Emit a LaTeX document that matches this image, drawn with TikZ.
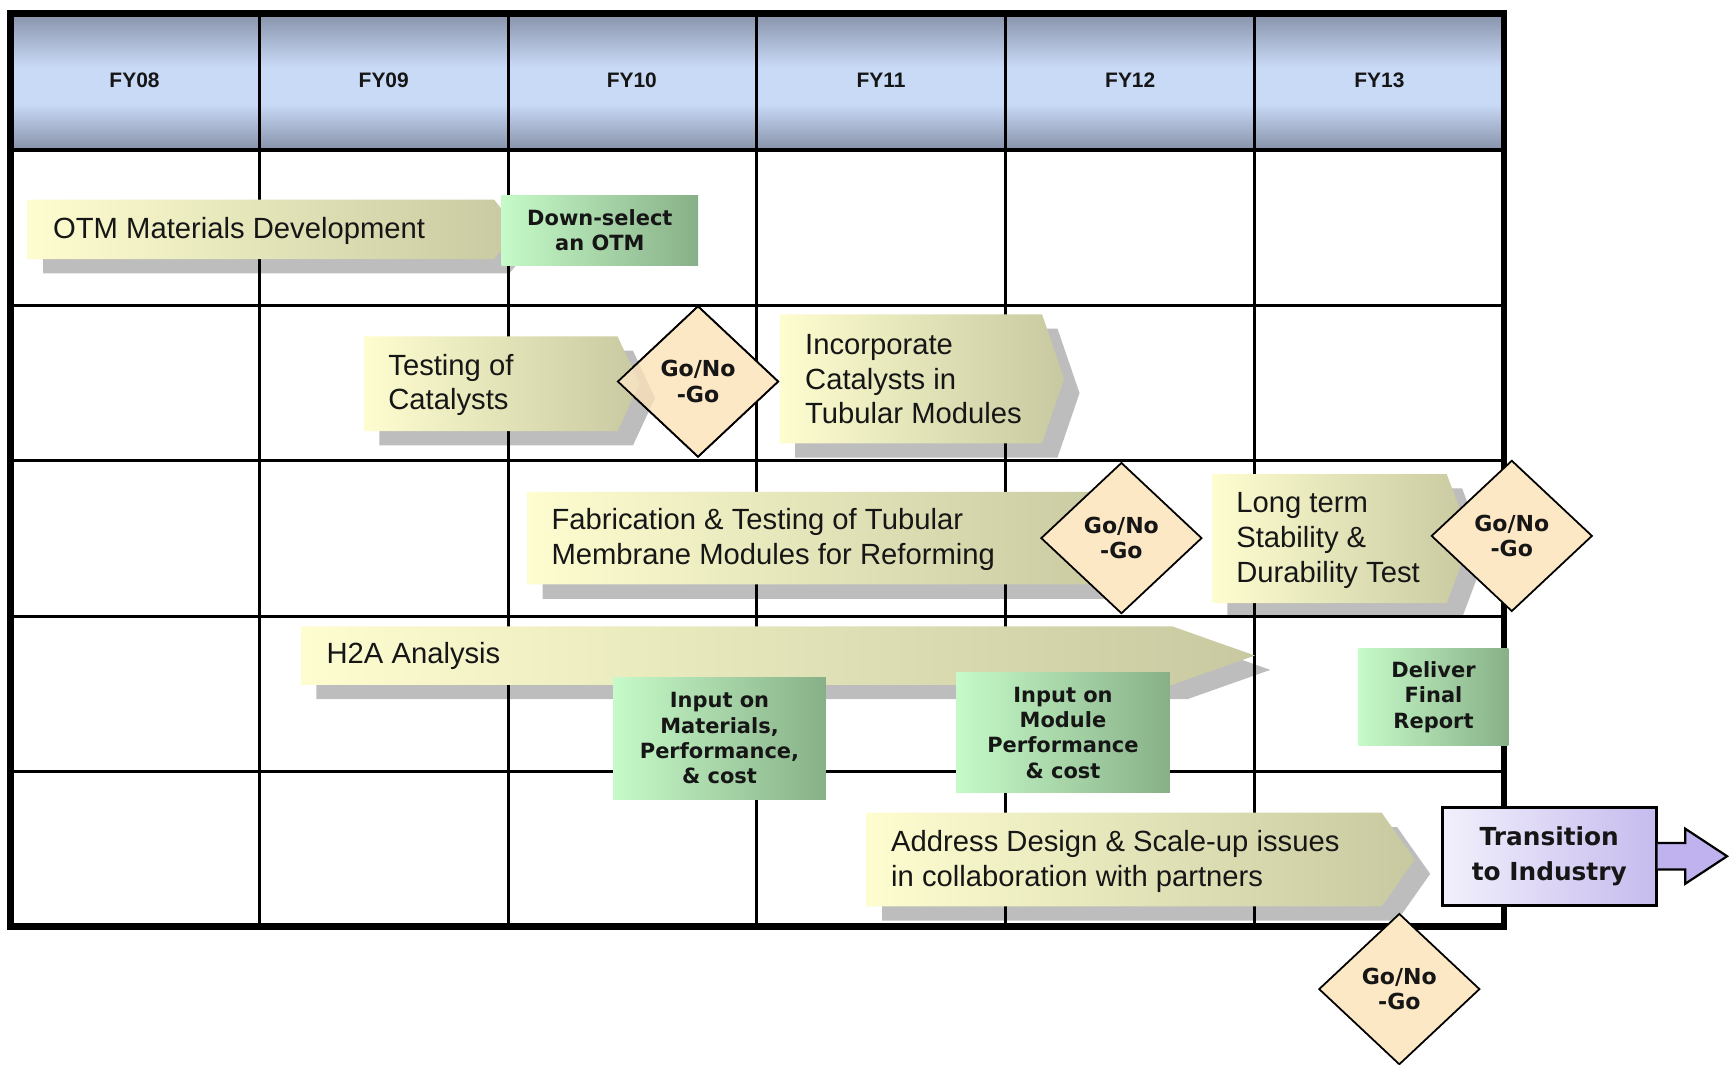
\documentclass[tikz,border=0pt]{standalone}
\usepackage{fontspec}
\setmainfont{Liberation Sans}
\newfontfamily\vfont{DejaVu Sans}
\usetikzlibrary{shapes.geometric,calc}

\definecolor{hdark}{HTML}{8792A9}
\definecolor{hlight}{HTML}{C9DAF7}
\definecolor{cl}{HTML}{FDFDD0}
\definecolor{cr}{HTML}{C9C9A1}
\definecolor{gl}{HTML}{C6FAC8}
\definecolor{gr}{HTML}{88B088}
\definecolor{dia}{HTML}{FDE8C6}
\definecolor{tl}{HTML}{F2F0FC}
\definecolor{tr}{HTML}{C6BBEE}
\definecolor{ta}{HTML}{BFB2EE}
\definecolor{ink}{HTML}{161616}

\newcommand\mychev[5]{%
  \fill[shd] (#1+14,#2+13) -- (#3+14,#2+13) -- (#4+14,{(#2+#5)/2+13}) -- (#3+14,#5+13) -- (#1+14,#5+13) -- cycle;
  \shade[left color=cl,right color=cr] (#1,#2) -- (#3,#2) -- (#4,{(#2+#5)/2}) -- (#3,#5) -- (#1,#5) -- cycle;
}

\begin{document}
\begin{tikzpicture}[x=1pt,y=-1pt,
  ctext/.style={font=\fontsize{26.5}{31.5}\selectfont, align=left, inner sep=0pt, text=ink, anchor=west},
  gbox/.style={left color=gl, right color=gr, inner sep=0pt, font=\vfont\bfseries\fontsize{19}{23}\selectfont, align=center, text=ink},
  dnode/.style={diamond, draw=black, line width=1.6pt, fill=dia, minimum width=146pt, minimum height=137pt, inner sep=0pt, font=\vfont\bfseries\fontsize{20}{23}\selectfont, align=center, text=ink},
  fy/.style={font=\bfseries\fontsize{19}{20}\selectfont, text=ink},
  shd/.style={fill=black, fill opacity=0.26},
  gridl/.style={line width=2.8pt, black},
]
\useasboundingbox (0,0) rectangle (1568,965);
\fill[white] (0,0) rectangle (1568,965);

% header
\shade[top color=hdark,bottom color=hlight] (9,12) rectangle (1364,61);
\fill[hlight] (9,61) rectangle (1364,94);
\shade[top color=hlight,bottom color=hdark] (9,94) rectangle (1364,136);

% grid
\foreach \x in {235,461,686,912,1138} \draw[gridl] (\x,12) -- (\x,840);
\foreach \y in {136,277,418,559,700} \draw[gridl] (9,\y) -- (1364,\y);
\draw[line width=6pt] (9.5,12) rectangle (1364,840);

% year labels
\node[fy] (fy08) at (122,73) {FY08};
\node[fy] (fy09) at (348,73) {FY09};
\node[fy] (fy10) at (573,73) {FY10};
\node[fy] (fy11) at (799,73) {FY11};
\node[fy] (fy12) at (1025,73) {FY12};
\node[fy] (fy13) at (1251,73) {FY13};

% chevrons
\mychev{25}{181}{448}{470}{235}
\node[ctext] (otm) at (48,209) {OTM Materials Development};

\mychev{707}{285}{945}{965}{402}
\node[ctext] (incorp) at (730,344) {Incorporate\\Catalysts in\\Tubular Modules};

\mychev{478}{446}{995}{1020}{530}
\node[ctext] (fab) at (500,489) {Fabrication \& Testing of Tubular\\Membrane Modules for Reforming};

\mychev{1099}{430}{1312}{1334}{547}
\node[ctext] (longt) at (1121,490) {Long term\\Stability \&\\Durability Test};

\mychev{273}{568}{1063}{1138}{621}
\node[ctext] (h2a) at (296,595) {H2A Analysis};

\mychev{786}{737}{1253}{1283}{822}
\node[ctext] (addr) at (808,781) {Address Design \& Scale-up issues\\in collaboration with partners};

% green boxes
\node[gbox, minimum width=178pt, minimum height=64pt] (down) at (544,209) {Down-select\\an OTM};
\node[gbox, minimum width=193pt, minimum height=111pt] (inmat) at (652.5,669.5) {Input on\\Materials,\\Performance,\\\& cost};
\node[gbox, minimum width=194pt, minimum height=109pt] (inmod) at (964,664.5) {Input on\\Module\\Performance\\\& cost};
\node[gbox, minimum width=136pt, minimum height=88pt] (deliver) at (1300,632) {Deliver\\Final\\Report};

% testing chevron and its go/no-go
\node[dnode] (g1) at (633,346) {Go/No\\-Go};
\mychev{330}{305}{560}{580}{391}
\node[ctext] (test) at (352,349) {Testing of\\Catalysts};
\node[dnode, fill opacity=0.78, text opacity=1] (g1b) at (633,346) {Go/No\\-Go};

\node[dnode] (g2) at (1017,488) {Go/No\\-Go};
\node[dnode] (g3) at (1371,486) {Go/No\\-Go};
\node[dnode] (g4) at (1269,897) {Go/No\\-Go};

% transition
\node[draw=black, line width=2.5pt, left color=tl, right color=tr, minimum width=194pt, minimum height=89pt, inner sep=0pt,
  font=\vfont\bfseries\fontsize{22.5}{32}\selectfont, align=center, text=ink] (trans) at (1405,776.5) {Transition\\to Industry};
\filldraw[draw=black, line width=2pt, fill=ta]
  ($(trans.east)+(0,-12)$) -- ++(25,0) -- ++(0,-13) -- ($(trans.east)+(63,0)$)
  -- ($(trans.east)+(25,25)$) -- ++(0,-13) -- ($(trans.east)+(0,12)$);
\end{tikzpicture}
\end{document}
